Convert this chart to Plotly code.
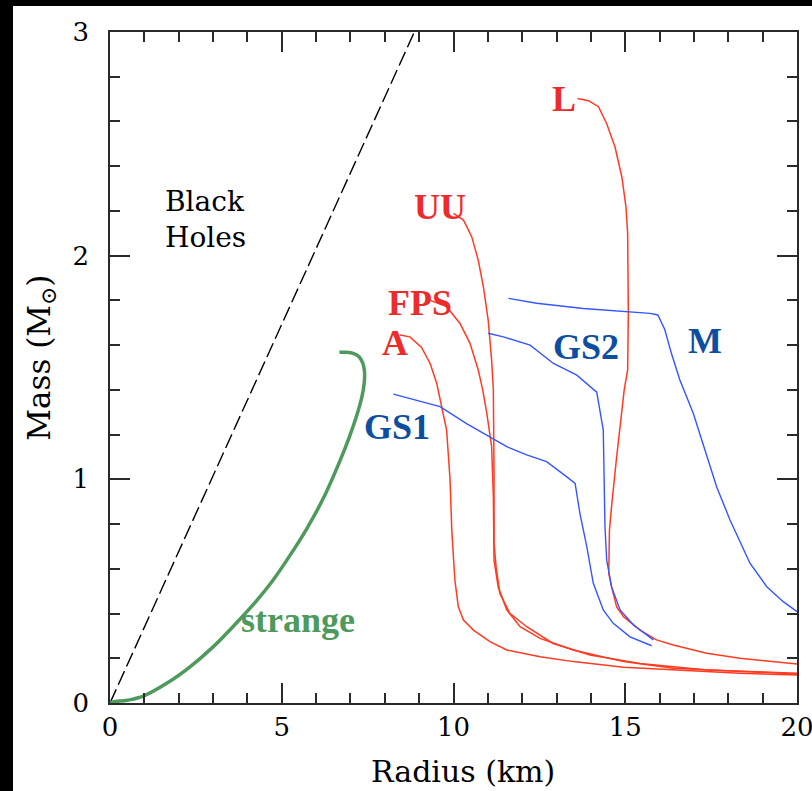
import plotly.graph_objects as go

# Mass-radius relations for neutron star equations of state (radius in km, mass in solar masses)
bh_r = [0.0, 8.86]
bh_m = [0.0, 3.0]

strange_r = [-0.21, 0.0, 0.5, 0.97, 1.65, 2.33, 3.01, 3.76, 4.27, 4.75, 5.24, 5.73, 6.21, 6.70, 6.97, 7.18, 7.33, 7.40, 7.41, 7.36, 7.25, 7.10, 6.89, 6.68]
strange_m = [-0.034, 0.0, 0.012, 0.031, 0.088, 0.162, 0.252, 0.371, 0.458, 0.55, 0.66, 0.78, 0.915, 1.085, 1.19, 1.284, 1.366, 1.43, 1.48, 1.52, 1.548, 1.562, 1.568, 1.568]

a_r = [8.44, 8.73, 9.07, 9.32, 9.51, 9.80, 9.90, 9.95, 10.04, 10.14, 10.29, 10.58, 11.06, 11.55, 12.52, 13.49, 14.95, 16.4, 18.34, 20.0]
a_m = [1.645, 1.637, 1.59, 1.518, 1.43, 1.22, 0.997, 0.773, 0.55, 0.43, 0.371, 0.326, 0.274, 0.237, 0.207, 0.185, 0.16, 0.148, 0.133, 0.125]

fps_r = [9.32, 9.80, 10.19, 10.48, 10.72, 10.85, 10.97, 11.11, 11.16, 11.18, 11.30, 11.55, 11.94, 12.52, 13.49, 14.95, 16.4, 18.34, 20.0]
fps_m = [1.80, 1.772, 1.697, 1.608, 1.489, 1.40, 1.295, 1.146, 0.922, 0.639, 0.52, 0.416, 0.341, 0.289, 0.237, 0.185, 0.155, 0.14, 0.13]

uu_r = [10.0, 10.29, 10.53, 10.72, 10.87, 11.01, 11.11, 11.16, 11.18, 11.18, 11.24, 11.35, 11.64, 12.13, 12.9, 13.97, 15.43, 17.37, 20.0]
uu_m = [2.189, 2.159, 2.085, 1.98, 1.861, 1.712, 1.533, 1.40, 1.04, 0.714, 0.609, 0.49, 0.401, 0.341, 0.266, 0.215, 0.177, 0.148, 0.133]

l_r = [13.61, 13.93, 14.22, 14.46, 14.70, 14.90, 15.02, 15.07, 15.09, 15.07, 14.97, 14.90, 14.75, 14.60, 14.54, 14.52, 14.60, 14.75, 14.95, 15.43, 15.91, 16.40, 17.37, 18.34, 20.0]
l_m = [2.703, 2.693, 2.666, 2.59, 2.487, 2.353, 2.219, 2.10, 1.742, 1.489, 1.40, 1.295, 1.101, 0.877, 0.773, 0.58, 0.52, 0.43, 0.386, 0.326, 0.282, 0.259, 0.222, 0.20, 0.174]

gs1_r = [8.25, 9.12, 9.61, 10.38, 11.06, 11.55, 12.13, 12.71, 13.29, 13.54, 13.68, 13.88, 14.07, 14.36, 14.65, 15.14, 15.77]
gs1_m = [1.381, 1.347, 1.325, 1.249, 1.19, 1.146, 1.109, 1.079, 1.012, 0.982, 0.848, 0.699, 0.535, 0.416, 0.356, 0.296, 0.256]

gs2_r = [11.01, 11.45, 12.23, 12.91, 13.59, 14.17, 14.36, 14.41, 14.46, 14.60, 14.85, 15.24, 15.82]
gs2_m = [1.653, 1.637, 1.60, 1.518, 1.466, 1.39, 1.22, 0.788, 0.639, 0.52, 0.416, 0.349, 0.282]

m_r = [11.6, 12.42, 13.78, 15.72, 15.95, 16.15, 16.35, 16.59, 16.98, 17.37, 17.66, 18.05, 18.63, 19.12, 19.6, 20.0]
m_m = [1.809, 1.787, 1.764, 1.742, 1.735, 1.67, 1.56, 1.444, 1.295, 1.101, 0.967, 0.818, 0.625, 0.52, 0.453, 0.408]

# Axis tick labels
x_ticks = [0, 5, 10, 15, 20]
y_ticks = [0, 1, 2, 3]

# Curve labels: text, position, colour
labels = ["L", "UU", "FPS", "A", "GS2", "M", "GS1", "strange"]
label_r = [13.22, 9.61, 9.02, 8.30, 13.86, 17.32, 8.36, 5.47]
label_m = [2.70, 2.217, 1.79, 1.61, 1.59, 1.62, 1.234, 0.371]

RED = "#ff3b22"
RED_TXT = "#ee2b2b"
BLUE = "#3556ff"
BLUE_TXT = "#0b4ea2"
GREEN = "#4e9a5c"
label_colors = [RED_TXT, RED_TXT, RED_TXT, RED_TXT, BLUE_TXT, BLUE_TXT, BLUE_TXT, GREEN]

fig = go.Figure()

fig.add_trace(go.Scatter(x=bh_r, y=bh_m, mode="lines",
                         line=dict(color="black", width=1.4, dash="15px,5px")))

for r, m in [(a_r, a_m), (fps_r, fps_m), (uu_r, uu_m), (l_r, l_m)]:
    fig.add_trace(go.Scatter(x=r, y=m, mode="lines", line=dict(color=RED, width=1.5)))

for r, m in [(gs1_r, gs1_m), (gs2_r, gs2_m), (m_r, m_m)]:
    fig.add_trace(go.Scatter(x=r, y=m, mode="lines", line=dict(color=BLUE, width=1.4)))

fig.add_trace(go.Scatter(x=strange_r, y=strange_m, mode="lines",
                         line=dict(color=GREEN, width=3.5, shape="spline", smoothing=1.0)))

for t, x, y, c in zip(labels, label_r, label_m, label_colors):
    fig.add_annotation(x=x, y=y, text=t, showarrow=False,
                       font=dict(family="Liberation Serif", size=36, color=c, weight="bold"))

fig.add_annotation(x=1.54, y=2.16, text="Black<br>Holes", showarrow=False,
                   xanchor="left", align="left",
                   font=dict(family="DejaVu Serif", size=28, color="black"))

# Axis titles
fig.add_annotation(xref="paper", yref="paper", x=0.514, y=-0.102, text="Radius (km)",
                   xanchor="center", yanchor="middle", showarrow=False,
                   font=dict(family="DejaVu Serif", size=30, color="black"))
fig.add_annotation(xref="paper", yref="paper", x=-0.1, y=0.515, text="Mass (M<sub>⊙</sub>)",
                   xanchor="center", yanchor="middle", textangle=-90, showarrow=False,
                   font=dict(family="DejaVu Serif", size=31, color="black"))

AX = "#2a2a2a"
common = dict(showgrid=False, zeroline=False, showline=True, linecolor=AX, linewidth=1.5,
              ticks="inside", ticklen=20, tickwidth=1.5, tickcolor=AX, mirror="allticks",
              automargin=False, ticklabeloverflow="allow",
              tickfont=dict(family="DejaVu Serif", size=26, color="black"))

fig.update_xaxes(range=[0, 20], tickmode="array", tickvals=x_ticks,
                 ticktext=[str(v) for v in x_ticks],
                 minor=dict(tick0=0, dtick=1, ticks="inside", ticklen=10, tickwidth=1.5, tickcolor=AX),
                 **common)
fig.update_yaxes(range=[0, 3], tickmode="array", tickvals=y_ticks,
                 ticktext=[str(v) for v in y_ticks],
                 minor=dict(tick0=0, dtick=0.2, ticks="inside", ticklen=10, tickwidth=1.5, tickcolor=AX),
                 ticklabelstandoff=14, **common)

# Dark border strips along the top and left edges of the page
fig.add_shape(type="rect", xref="paper", yref="paper", x0=-0.17, x1=-0.1412, y0=-0.2, y1=1.06,
              fillcolor="black", line_width=0, layer="above")
fig.add_shape(type="rect", xref="paper", yref="paper", x0=-0.17, x1=1.03, y0=1.0387, y1=1.06,
              fillcolor="black", line_width=0, layer="above")

fig.update_layout(width=812, height=791, showlegend=False,
                  margin=dict(l=110, r=15, t=32, b=88, autoexpand=False),
                  paper_bgcolor="white", plot_bgcolor="white")

fig.write_html("out.html")
